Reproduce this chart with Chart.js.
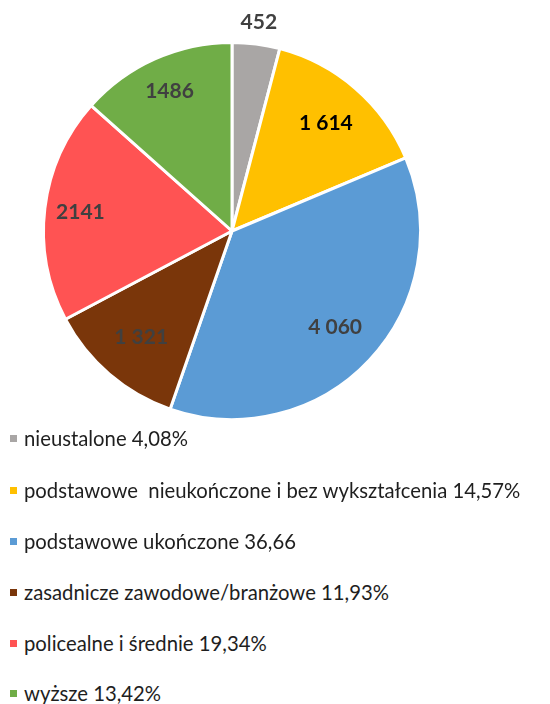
<!DOCTYPE html>
<html>
<head>
<meta charset="utf-8">
<script src="https://cdn.jsdelivr.net/npm/chart.js@4/dist/chart.umd.min.js"></script>
<style>
  html, body { margin: 0; padding: 0; background: #fff; }
  #wrap { position: relative; width: 550px; height: 704px; }
  #c { position: absolute; left: 0; top: 0; }
  #legend { position: absolute; left: 0; top: 424px; width: 550px; font-family: Lato, "Open Sans", sans-serif; font-size: 20.3px; color: #1e1e1e; }
  .item { position: absolute; left: 0; height: 28px; line-height: 28px; white-space: pre; }
  .sw { position: absolute; left: 10px; top: 11px; width: 7px; height: 7px; }
  .tx { position: absolute; left: 24px; top: 0; }
</style>
</head>
<body>
<div id="wrap">
  <canvas id="c" width="550" height="425"></canvas>
  <div id="legend"></div>
</div>
<script>
const categories = [
  "nieustalone 4,08%",
  "podstawowe  nieukończone i bez wykształcenia 14,57%",
  "podstawowe ukończone 36,66",
  "zasadnicze zawodowe/branżowe 11,93%",
  "policealne i średnie 19,34%",
  "wyższe 13,42%"
];
const values = [452, 1614, 4060, 1321, 2141, 1486];
const valueLabels = ["452", "1 614", "4 060", "1 321", "2141", "1486"];

const colors = ["#A9A6A5", "#FFC000", "#5B9BD5", "#7A360A", "#FF5353", "#70AD47"];
const labelColors = ["#404040", "#000000", "#404040", "#404040", "#404040", "#404040"];
const labelRadius = [1.115, 0.76, 0.75, 0.74, 0.81, 0.81];

const valueLabelPlugin = {
  id: 'valueLabels',
  afterDatasetsDraw(chart) {
    const ctx = chart.ctx;
    const meta = chart.getDatasetMeta(0);
    ctx.save();
    ctx.font = 'bold 21px Lato, "Open Sans", sans-serif';
    ctx.textAlign = 'center';
    ctx.textBaseline = 'middle';
    meta.data.forEach((arc, i) => {
      const p = arc.getProps(['x', 'y', 'startAngle', 'endAngle', 'outerRadius'], true);
      const mid = (p.startAngle + p.endAngle) / 2;
      const r = p.outerRadius * labelRadius[i];
      ctx.fillStyle = labelColors[i];
      ctx.fillText(valueLabels[i], p.x + Math.cos(mid) * r, p.y + Math.sin(mid) * r);
    });
    ctx.restore();
  }
};

new Chart(document.getElementById('c'), {
  type: 'pie',
  data: {
    labels: categories,
    datasets: [{
      data: values,
      backgroundColor: colors,
      borderColor: '#ffffff',
      borderWidth: 3
    }]
  },
  options: {
    responsive: false,
    animation: false,
    layout: { padding: { left: 42, right: 128, top: 41, bottom: 4 } },
    plugins: {
      legend: { display: false },
      tooltip: { enabled: false }
    }
  },
  plugins: [valueLabelPlugin]
});

const legendTops = [0, 52, 103, 154, 205, 255];
const legend = document.getElementById('legend');
categories.forEach((name, i) => {
  const item = document.createElement('div');
  item.className = 'item';
  item.style.top = legendTops[i] + 'px';
  const sw = document.createElement('span');
  sw.className = 'sw';
  sw.style.background = colors[i];
  const tx = document.createElement('span');
  tx.className = 'tx';
  tx.textContent = name;
  item.appendChild(sw);
  item.appendChild(tx);
  legend.appendChild(item);
});
</script>
</body>
</html>
